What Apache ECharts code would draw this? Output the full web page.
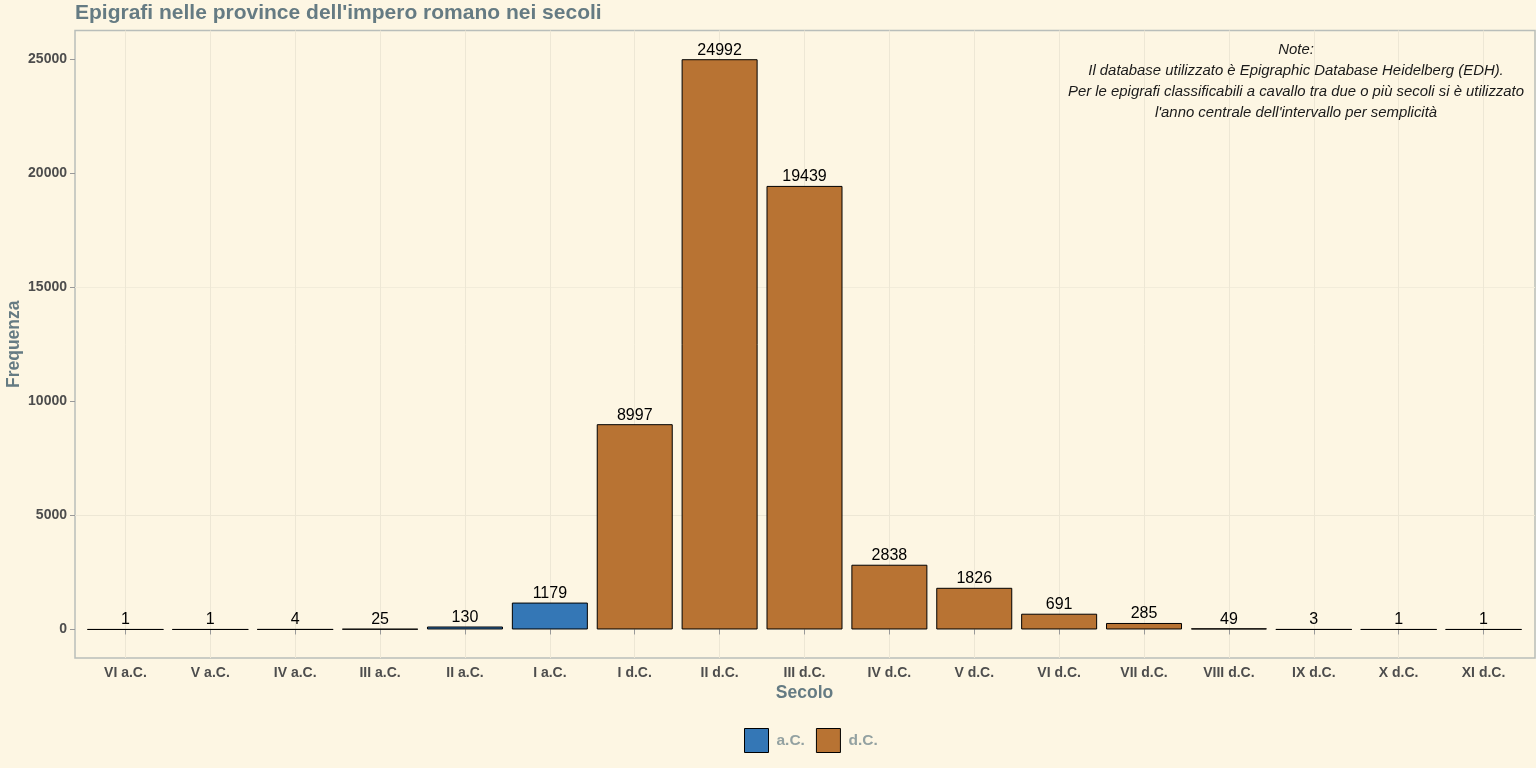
<!DOCTYPE html>
<html>
<head>
<meta charset="utf-8">
<script src="https://cdn.jsdelivr.net/npm/echarts@6/dist/echarts.min.js"></script>
<style>
html,body{margin:0;padding:0;background:#fdf6e3;}
#c{width:1536px;height:768px;}
</style>
</head>
<body>
<div id="c"></div>
<script>
const categories = ['VI a.C.','V a.C.','IV a.C.','III a.C.','II a.C.','I a.C.','I d.C.','II d.C.','III d.C.','IV d.C.','V d.C.','VI d.C.','VII d.C.','VIII d.C.','IX d.C.','X d.C.','XI d.C.'];
const values = [1,1,4,25,130,1179,8997,24992,19439,2838,1826,691,285,49,3,1,1];
const era = ['a.C.','a.C.','a.C.','a.C.','a.C.','a.C.','d.C.','d.C.','d.C.','d.C.','d.C.','d.C.','d.C.','d.C.','d.C.','d.C.','d.C.'];
const yTicks = [0,5000,10000,15000,20000,25000];
const titleText = "Epigrafi nelle province dell'impero romano nei secoli";
const noteLines = ['Note:','Il database utilizzato è Epigraphic Database Heidelberg (EDH).','Per le epigrafi classificabili a cavallo tra due o più secoli si è utilizzato',"l'anno centrale dell'intervallo per semplicità"];

const yMin = -1250, yMax = 26250;
const seriesAC = values.map((v,i)=> era[i]==='a.C.' ? v : null);
const seriesDC = values.map((v,i)=> era[i]==='d.C.' ? v : null);

const chart = echarts.init(document.getElementById('c'));
const labelCfg = {show:true, position:'top', distance:1, color:'#000', fontSize:16, fontFamily:'Liberation Sans'};
const T = 30.5, H = 627.5;
const panel = {left:75, top:T, width:1460, height:H, outerBoundsMode:'none', containLabel:false};
const inner = {left:83, top:T, width:1443, height:H, outerBoundsMode:'none', containLabel:false};
const lineGrid = {left:125.45, top:T, width:84.88*16, height:H, outerBoundsMode:'none', containLabel:false};

chart.setOption({
  backgroundColor:'#fdf6e3',
  animation:false,
  title:{text:titleText, left:70, top:-2, textStyle:{color:'#657b83', fontSize:21, fontWeight:'bold', fontFamily:'Liberation Sans'}},
  legend:{bottom:10, left:739, itemWidth:24, itemHeight:24, itemGap:11, icon:'rect',
    textStyle:{color:'#93a1a1', fontSize:15.5, fontWeight:'bold', fontFamily:'Liberation Sans', padding:[0,0,0,3]},
    data:[{name:'a.C.', itemStyle:{borderColor:'#000', borderWidth:1}},{name:'d.C.', itemStyle:{borderColor:'#000', borderWidth:1}}]},
  grid:[
    Object.assign({show:true, borderColor:'#b9beba', borderWidth:1.5, backgroundColor:'transparent'}, panel),
    Object.assign({}, inner),
    Object.assign({}, lineGrid)
  ],
  xAxis:[
    {type:'category', gridIndex:0, data:categories, show:false},
    {type:'category', gridIndex:1, data:categories,
      name:'Secolo', nameLocation:'middle', nameGap:26, nameMoveOverlap:false,
      nameTextStyle:{color:'#657b83', fontSize:17.5, fontWeight:'bold', fontFamily:'Liberation Sans'},
      axisLine:{show:false},
      axisTick:{show:true, alignWithLabel:true, length:5, lineStyle:{color:'#999'}},
      axisLabel:{color:'#4d4d4d', fontSize:14, fontWeight:'bold', fontFamily:'Liberation Sans', margin:8, interval:0},
      splitLine:{show:false}},
    {type:'category', gridIndex:2, data:categories, boundaryGap:false,
      axisLine:{show:false}, axisTick:{show:false}, axisLabel:{show:false},
      splitLine:{show:true, lineStyle:{color:'#ede7d5', width:1}}}
  ],
  yAxis:[
    {type:'value', gridIndex:0, min:yMin, max:yMax, interval:1250,
      name:'Frequenza', nameLocation:'middle', nameGap:52, nameMoveOverlap:false,
      nameTextStyle:{color:'#657b83', fontSize:17.5, fontWeight:'bold', fontFamily:'Liberation Sans'},
      axisLine:{show:false},
      axisTick:{show:true, length:5, lineStyle:{color:'#999'}, customValues:yTicks},
      axisLabel:{color:'#4d4d4d', fontSize:14, fontWeight:'bold', fontFamily:'Liberation Sans', margin:8,
        customValues:yTicks, formatter:v=> String(v)},
      splitLine:{show:true, showMinLine:false, showMaxLine:false,
        lineStyle:{color:['#ede7d5','rgba(0,0,0,0)','#f2ecda','rgba(0,0,0,0)'], width:1}}},
    {type:'value', gridIndex:1, min:yMin, max:yMax, show:false, splitLine:{show:false}},
    {type:'value', gridIndex:2, min:yMin, max:yMax, show:false, splitLine:{show:false}}
  ],
  graphic:[{
    type:'text', left:1296-350, top:39, z:10,
    style:{text:noteLines.join('\n'), width:700, align:'center', x:350, textAlign:'center',
      fill:'#1a1a1a', fontSize:14.9, fontStyle:'italic', fontFamily:'Liberation Sans', lineHeight:21}
  }],
  series:[
    {name:'a.C.', type:'bar', xAxisIndex:1, yAxisIndex:1, stack:'s', data:seriesAC, barWidth:76,
      itemStyle:{color:'#3477b6', borderColor:'#000', borderWidth:1}, label:labelCfg},
    {name:'d.C.', type:'bar', xAxisIndex:1, yAxisIndex:1, stack:'s', data:seriesDC, barWidth:76,
      itemStyle:{color:'#b87333', borderColor:'#000', borderWidth:1}, label:labelCfg}
  ]
});
</script>
</body>
</html>
